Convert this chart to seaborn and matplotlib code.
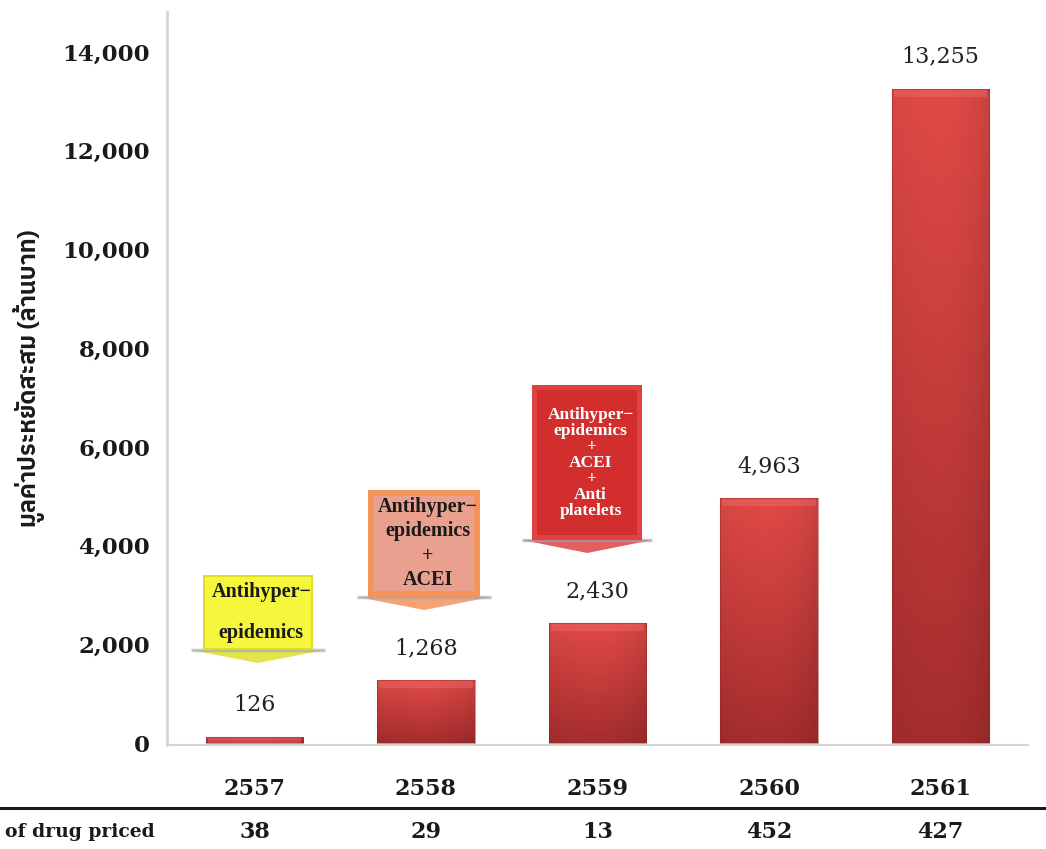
import numpy as np
import pandas as pd
import matplotlib
matplotlib.use("Agg")
import matplotlib.pyplot as plt
import matplotlib.transforms as mtransforms
import seaborn as sns
from matplotlib.patches import Polygon, Rectangle
from matplotlib.lines import Line2D
from matplotlib.colors import to_rgb
from matplotlib import font_manager

# ---- data ----
years = ["2557", "2558", "2559", "2560", "2561"]
savings = [126, 1268, 2430, 4963, 13255]          # cumulative savings (million baht)
drug_counts = [38, 29, 13, 452, 427]              # number of drugs priced
y_ticks = [0, 2000, 4000, 6000, 8000, 10000, 12000, 14000]
callout_texts = [
    "Antihyper−\nepidemics",
    "Antihyper−\nepidemics\n+\nACEI",
    "Antihyper−\nepidemics\n+\nACEI\n+\nAnti\nplatelets",
]
ylabel = "มูลค่าประหยัดสะสม (ล้านบาท)"
row_label = "of drug priced"

sns.set_theme(style="white")
plt.rcParams["font.family"] = ["DejaVu Serif", "DejaVu Sans"]

thai_names = sorted({f.name for f in font_manager.fontManager.ttflist
                     if "Thai" in f.name or f.name in ("Loma", "Garuda", "Norasi", "Kinnari",
                                                       "Waree", "Sawasdee", "Umpush", "Laksaman",
                                                       "Tlwg Typo", "Purisa")})
thai_family = thai_names + ["DejaVu Sans"]

df = pd.DataFrame({"year": years, "savings": savings})

fig = plt.figure(figsize=(10.46, 8.49), dpi=100)
ax = fig.add_axes([167 / 1046, 1 - 745 / 849, (1028 - 167) / 1046, (745 - 12) / 849])

sns.barplot(data=df, x="year", y="savings", color="#c93a38", width=0.57,
            saturation=1, ax=ax, edgecolor="none", errorbar=None)

# gradient shading on each bar
top_c = np.array(to_rgb("#e04a46"))
bot_c = np.array(to_rgb("#a52d2d"))
for p in ax.patches:
    x0, y0 = p.get_x(), p.get_y()
    w, h = p.get_width(), p.get_height()
    ny, nx = 64, 32
    t = np.linspace(0, 1, ny)[:, None, None]          # 0 top -> 1 bottom
    grad = top_c * (1 - t) + bot_c * t
    xs = np.linspace(-1, 1, nx)[None, :, None]
    shade = 1 - 0.10 * np.clip(xs, 0, 1) ** 2 - 0.04 * np.clip(-xs, 0, 1) ** 2
    img = np.clip(grad * shade, 0, 1)
    im = ax.imshow(img, extent=(x0, x0 + w, y0, y0 + h), origin="upper",
                   aspect="auto", zorder=3, interpolation="bilinear")
    im.set_clip_path(p)
    # light bevel along the top
    bevel = min(h, 160)
    ax.add_patch(Rectangle((x0 + w * 0.02, y0 + h - bevel), w * 0.96, bevel,
                           facecolor="#f07070", alpha=0.4, edgecolor="none", zorder=4))
    ax.add_patch(Rectangle((x0, y0), w, h, facecolor="none",
                           edgecolor="#8f2424", linewidth=0.8, alpha=0.45, zorder=5))

# value labels above bars
for i, v in enumerate(savings):
    ax.annotate(f"{v:,}", xy=(i, v), xytext=(0, 23), textcoords="offset points",
                ha="center", va="center", fontsize=16, color="#222222",
                family="DejaVu Serif", zorder=6)

# down-arrow callouts: (center, half width, top, bottom, apex, base half width)
callout_geom = [
    (0.02, 0.32, 3404, 1884, 1621, 0.39),
    (0.99, 0.327, 5126, 2958, 2695, 0.39),
    (1.94, 0.32, 7253, 4113, 3850, 0.38),
]
callout_style = [
    dict(outer="#dede2a", inner="#f6f63c", text="#1a1a1a", size=14.5, ls=2.35, ix=0.012, iy=40),
    dict(outer="#f4935a", inner="#e9a08e", text="#1a1a1a", size=14.5, ls=1.3, ix=0.035, iy=120),
    dict(outer="#e04242", inner="#d22e2e", text="white", size=12.5, ls=1.0, ix=0.03, iy=100),
]
for txt, (cx, hw, top, bot, apex, hb), st in zip(callout_texts, callout_geom, callout_style):
    ax.add_patch(Polygon([(cx - hb, bot), (cx + hb, bot), (cx, apex)], closed=True,
                         facecolor=st["outer"], edgecolor="none", alpha=0.85, zorder=6))
    ax.plot([cx - hb, cx + hb], [bot, bot], color="#9aa6b8", lw=2.5, alpha=0.6,
            zorder=6, solid_capstyle="butt")
    ax.add_patch(Rectangle((cx - hw, bot), 2 * hw, top - bot, facecolor=st["outer"],
                           edgecolor="none", zorder=7))
    ax.add_patch(Rectangle((cx - hw + st["ix"], bot + st["iy"]), 2 * (hw - st["ix"]),
                           top - bot - 2 * st["iy"], facecolor=st["inner"],
                           edgecolor="none", zorder=7))
    ax.text(cx + 0.02, (top + bot) / 2, txt, ha="center", va="center", color=st["text"],
            fontsize=st["size"], fontweight="bold", family="Liberation Serif",
            linespacing=st["ls"], zorder=8)

# axes styling
ax.set_xlim(-0.51, 4.51)
ax.set_ylim(-40, 14810)
ax.set_yticks(y_ticks)
ax.set_yticklabels([f"{t:,}" for t in y_ticks], fontsize=16.5, fontweight="bold",
                   family="DejaVu Serif", color="#1a1a1a")
ax.set_xticks(range(len(years)))
ax.set_xticklabels(years, fontsize=16, fontweight="bold", family="DejaVu Serif",
                   color="#1a1a1a")
ax.tick_params(axis="y", length=0, pad=12)
ax.tick_params(axis="x", length=0, pad=24)
ax.set_xlabel("")
ax.set_ylabel(ylabel, family=thai_family, fontsize=17, fontweight="bold",
              color="#1a1a1a")
ax.yaxis.set_label_coords(-0.142, 0.5)
for side in ("top", "right"):
    ax.spines[side].set_visible(False)
ax.spines["left"].set_color("#d4d4d4")
ax.spines["left"].set_linewidth(2)
ax.spines["bottom"].set_color("#d4d4d4")
ax.spines["bottom"].set_linewidth(1.5)
ax.grid(False)

# table row below the chart
fig.add_artist(Line2D([0, 1], [1 - 808 / 849, 1 - 808 / 849], color="#1a1a1a",
                      lw=2.2, transform=fig.transFigure))
row_y = 1 - 832 / 849
trans = mtransforms.blended_transform_factory(ax.transData, fig.transFigure)
for i, n in enumerate(drug_counts):
    ax.text(i, row_y, str(n), transform=trans, ha="center", va="center",
            fontsize=16, fontweight="bold", family="DejaVu Serif", color="#1a1a1a",
            clip_on=False)
fig.text(155 / 1046, row_y, row_label, ha="right", va="center", fontsize=13.5,
         fontweight="bold", family="DejaVu Serif", color="#1a1a1a")

fig.savefig("out.png", dpi=100)
